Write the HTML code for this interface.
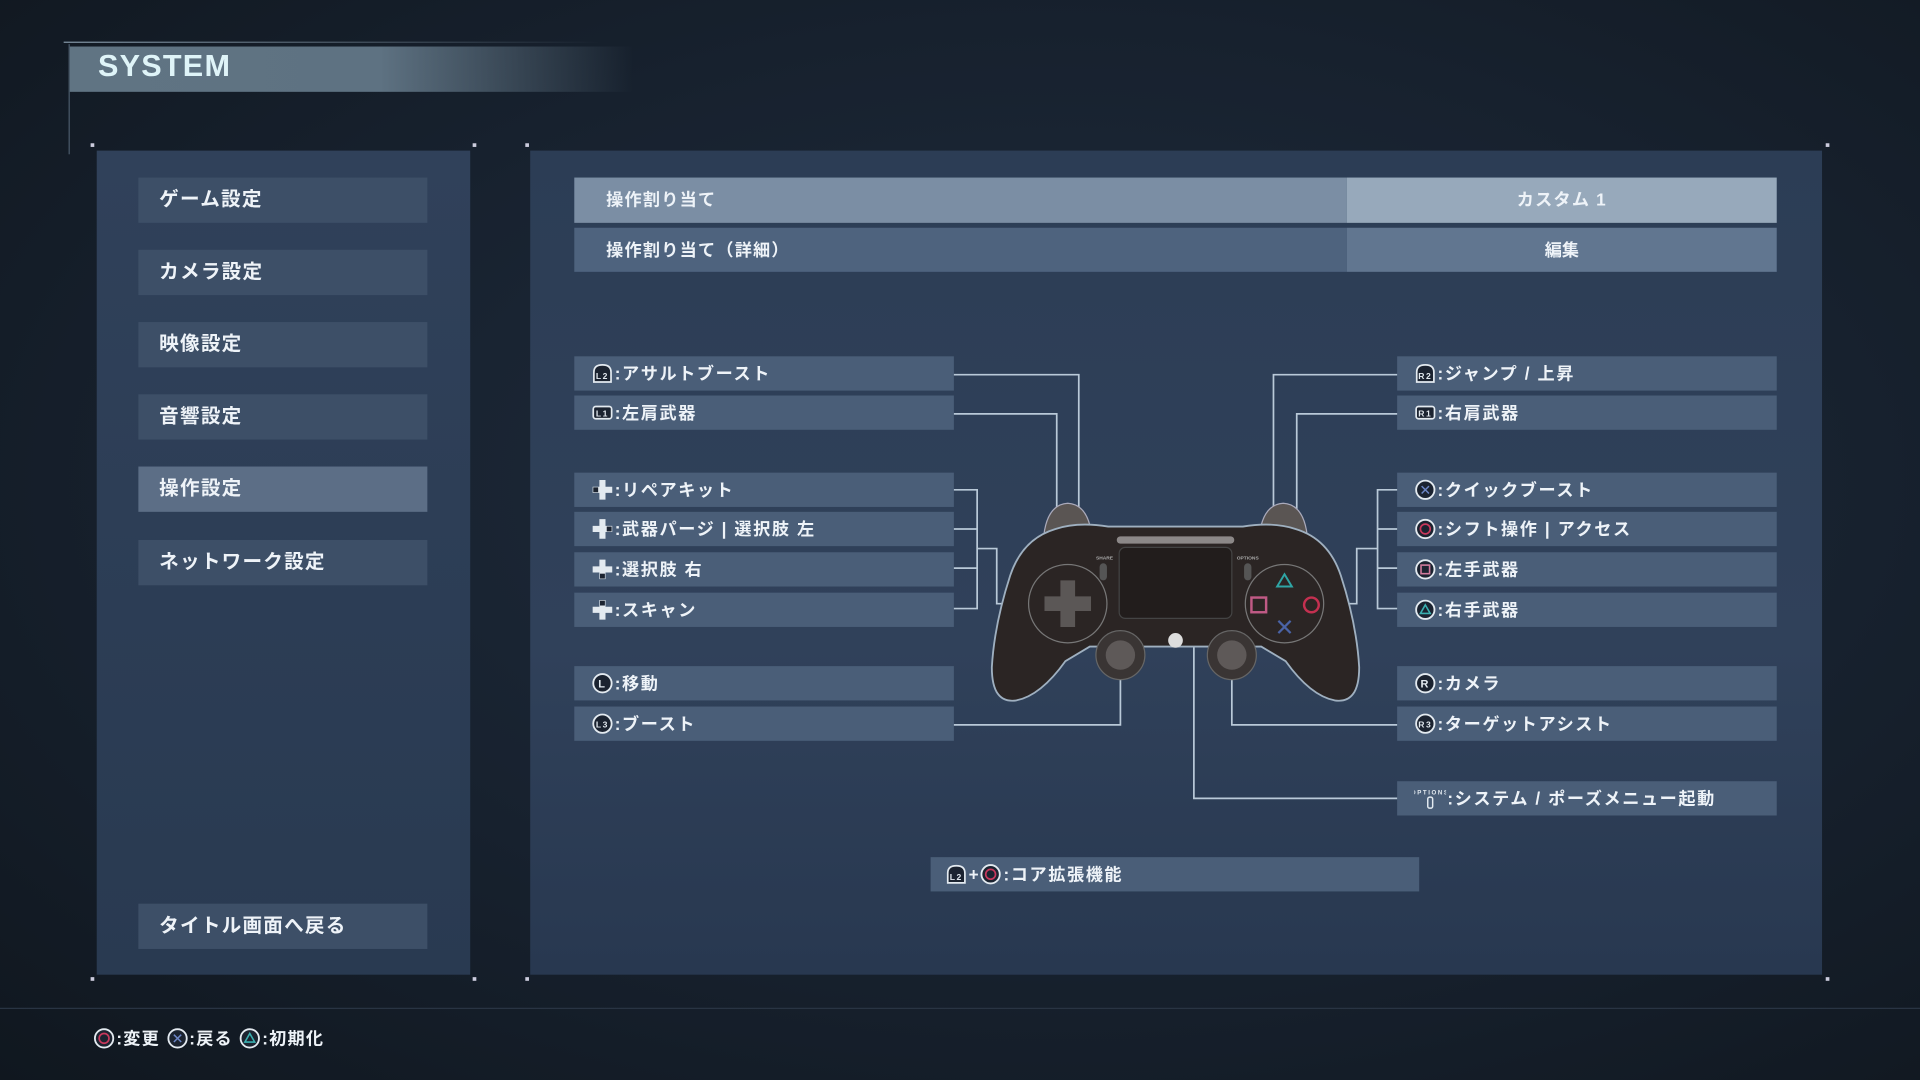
<!DOCTYPE html>
<html><head><meta charset="utf-8">
<style>
html,body{margin:0;padding:0;background:#111923;width:1920px;height:1080px;overflow:hidden}
#s{position:absolute;left:0;top:0;width:1568px;height:882px;transform:scale(1.22449);transform-origin:0 0;
background:radial-gradient(ellipse at 55% 45%,#1f2c3d 0%,#17212e 55%,#10171f 100%);
font-family:"Liberation Sans","Noto Sans CJK JP",sans-serif;color:#eef3f8;font-weight:bold}
.a{position:absolute}
.btn{position:absolute;left:113px;width:236px;height:37px;background:#3d4f67;font-size:16px;line-height:37px;padding-left:17px;box-sizing:border-box;letter-spacing:1px}
.lb{position:absolute;width:310px;height:28px;background:#4a5e78;font-size:14px;line-height:28px;padding-left:14px;box-sizing:border-box;letter-spacing:1.3px;white-space:nowrap}
svg.i{width:18px;height:18px;vertical-align:-4px;margin-right:1px}
svg.i text{font-family:"Liberation Sans",sans-serif;font-weight:bold}
</style></head><body><div id="s">
<svg width="0" height="0" style="position:absolute">
<defs>
<symbol id="c" viewBox="0 0 18 18"><circle cx="9" cy="9" r="7.5" fill="#1b2330" stroke="#e3eaf0" stroke-width="1.5"/></symbol>
</defs></svg>
<!-- header -->
<div class="a" style="left:52px;top:34px;width:440px;height:1px;background:linear-gradient(90deg,#8396a6,rgba(131,150,166,0))"></div>
<div class="a" style="left:56px;top:36px;width:1px;height:90px;background:#4a5a6a"></div>
<div class="a" style="left:57px;top:38px;width:460px;height:37px;background:linear-gradient(90deg,#607483 0%,#5e7282 55%,rgba(80,100,115,0) 100%)"></div>
<div class="a" style="left:80px;top:40px;font-size:25px;color:#dff4f8;letter-spacing:1px;font-family:'Liberation Sans',sans-serif">SYSTEM</div>
<!-- panels -->
<div class="a" style="left:79px;top:123px;width:305px;height:673px;background:linear-gradient(180deg,#30415a,#293a51)"></div>
<div class="a" style="left:433px;top:123px;width:1055px;height:673px;background:linear-gradient(180deg,#2c3d55,#30415a 60%,#283850)"></div>
<div class="a" style="left:74px;top:117px;width:3px;height:3px;background:#ccd"></div>
<div class="a" style="left:386px;top:117px;width:3px;height:3px;background:#ccd"></div>
<div class="a" style="left:429px;top:117px;width:3px;height:3px;background:#ccd"></div>
<div class="a" style="left:1491px;top:117px;width:3px;height:3px;background:#ccd"></div>
<div class="a" style="left:74px;top:798px;width:3px;height:3px;background:#ccd"></div>
<div class="a" style="left:386px;top:798px;width:3px;height:3px;background:#ccd"></div>
<div class="a" style="left:429px;top:798px;width:3px;height:3px;background:#ccd"></div>
<div class="a" style="left:1491px;top:798px;width:3px;height:3px;background:#ccd"></div>
<!-- menu -->
<div class="btn" style="top:145px">ゲーム設定</div>
<div class="btn" style="top:204px">カメラ設定</div>
<div class="btn" style="top:263px">映像設定</div>
<div class="btn" style="top:322px">音響設定</div>
<div class="btn" style="top:381px;background:#5c6e86">操作設定</div>
<div class="btn" style="top:441px">ネットワーク設定</div>
<div class="btn" style="top:738px">タイトル画面へ戻る</div>
<!-- top rows -->
<div class="a" style="left:469px;top:145px;width:631px;height:37px;background:#7b8ea4;font-size:14px;line-height:37px;padding-left:26px;box-sizing:border-box;letter-spacing:1px">操作割り当て</div>
<div class="a" style="left:1100px;top:145px;width:351px;height:37px;background:#97a9bb;font-size:14px;line-height:37px;text-align:center;letter-spacing:1px">カスタム 1</div>
<div class="a" style="left:469px;top:186px;width:631px;height:36px;background:#4e637e;font-size:14px;line-height:36px;padding-left:26px;box-sizing:border-box;letter-spacing:1px">操作割り当て（詳細）</div>
<div class="a" style="left:1100px;top:186px;width:351px;height:36px;background:#617690;font-size:14px;line-height:36px;text-align:center">編集</div>
<!-- left labels -->
<div class="lb" style="left:469px;top:291px"><svg class="i" viewBox="0 0 18 18"><path d="M2,16 V8 Q2,2 9,2 Q16,2 16,8 V16Z" fill="#1b2330" stroke="#e3eaf0" stroke-width="1.4"/><text x="9" y="13.5" font-size="7" fill="#e3eaf0" text-anchor="middle">L2</text></svg>:アサルトブースト</div>
<div class="lb" style="left:469px;top:323px"><svg class="i" viewBox="0 0 18 18"><rect x="1.5" y="4" width="15" height="10" rx="2" fill="#1b2330" stroke="#e3eaf0" stroke-width="1.4"/><text x="9" y="12" font-size="7" fill="#e3eaf0" text-anchor="middle">L1</text></svg>:左肩武器</div>
<div class="lb" style="left:469px;top:386px"><svg class="i" viewBox="0 0 18 18"><path d="M6.5,1h5v5.5h5.5v5h-5.5v5.5h-5v-5.5h-5.5v-5h5.5z" fill="#e3eaf0"/><rect x="1.5" y="7" width="4" height="4" fill="#1b2330"/></svg>:リペアキット</div>
<div class="lb" style="left:469px;top:418px"><svg class="i" viewBox="0 0 18 18"><path d="M6.5,1h5v5.5h5.5v5h-5.5v5.5h-5v-5.5h-5.5v-5h5.5z" fill="#e3eaf0"/><rect x="12.5" y="7" width="4" height="4" fill="#1b2330"/></svg>:武器パージ | 選択肢 左</div>
<div class="lb" style="left:469px;top:451px"><svg class="i" viewBox="0 0 18 18"><path d="M6.5,1h5v5.5h5.5v5h-5.5v5.5h-5v-5.5h-5.5v-5h5.5z" fill="#e3eaf0"/><rect x="7" y="12.5" width="4" height="4" fill="#1b2330"/></svg>:選択肢 右</div>
<div class="lb" style="left:469px;top:484px"><svg class="i" viewBox="0 0 18 18"><path d="M6.5,1h5v5.5h5.5v5h-5.5v5.5h-5v-5.5h-5.5v-5h5.5z" fill="#e3eaf0"/><rect x="7" y="1.5" width="4" height="4" fill="#1b2330"/></svg>:スキャン</div>
<div class="lb" style="left:469px;top:544px"><svg class="i"><use href="#c"/><text x="9" y="12.5" font-size="9" fill="#e3eaf0" text-anchor="middle">L</text></svg>:移動</div>
<div class="lb" style="left:469px;top:577px"><svg class="i"><use href="#c"/><text x="9" y="12" font-size="7" fill="#e3eaf0" text-anchor="middle">L3</text></svg>:ブースト</div>
<!-- right labels -->
<div class="lb" style="left:1141px;top:291px"><svg class="i" viewBox="0 0 18 18"><path d="M2,16 V8 Q2,2 9,2 Q16,2 16,8 V16Z" fill="#1b2330" stroke="#e3eaf0" stroke-width="1.4"/><text x="9" y="13.5" font-size="7" fill="#e3eaf0" text-anchor="middle">R2</text></svg>:ジャンプ / 上昇</div>
<div class="lb" style="left:1141px;top:323px"><svg class="i" viewBox="0 0 18 18"><rect x="1.5" y="4" width="15" height="10" rx="2" fill="#1b2330" stroke="#e3eaf0" stroke-width="1.4"/><text x="9" y="12" font-size="7" fill="#e3eaf0" text-anchor="middle">R1</text></svg>:右肩武器</div>
<div class="lb" style="left:1141px;top:386px"><svg class="i"><use href="#c"/><path d="M6,6L12,12M12,6L6,12" stroke="#6c86c6" stroke-width="1.2"/></svg>:クイックブースト</div>
<div class="lb" style="left:1141px;top:418px"><svg class="i"><use href="#c"/><circle cx="9" cy="9" r="4" fill="none" stroke="#c8385c" stroke-width="1.4"/></svg>:シフト操作 | アクセス</div>
<div class="lb" style="left:1141px;top:451px"><svg class="i"><use href="#c"/><rect x="5.5" y="5.5" width="7" height="7" fill="none" stroke="#d07a9c" stroke-width="1.3"/></svg>:左手武器</div>
<div class="lb" style="left:1141px;top:484px"><svg class="i"><use href="#c"/><path d="M9,5L13,12H5Z" fill="none" stroke="#3bb0b0" stroke-width="1.3"/></svg>:右手武器</div>
<div class="lb" style="left:1141px;top:544px"><svg class="i"><use href="#c"/><text x="9" y="12.5" font-size="9" fill="#e3eaf0" text-anchor="middle">R</text></svg>:カメラ</div>
<div class="lb" style="left:1141px;top:577px"><svg class="i"><use href="#c"/><text x="9" y="12" font-size="7" fill="#e3eaf0" text-anchor="middle">R3</text></svg>:ターゲットアシスト</div>
<div class="lb" style="left:1141px;top:638px"><svg class="i" style="width:26px" viewBox="0 0 26 18"><text x="13" y="6" font-size="5" fill="#e3eaf0" text-anchor="middle">OPTIONS</text><rect x="11" y="8" width="4" height="9" rx="1.5" fill="none" stroke="#e3eaf0" stroke-width="1.2"/></svg>:システム / ポーズメニュー起動</div>
<div class="lb" style="left:760px;top:700px;width:399px;padding-left:12px"><svg class="i" viewBox="0 0 18 18"><path d="M2,16 V8 Q2,2 9,2 Q16,2 16,8 V16Z" fill="#1b2330" stroke="#e3eaf0" stroke-width="1.4"/><text x="9" y="13.5" font-size="7" fill="#e3eaf0" text-anchor="middle">L2</text></svg>+<svg class="i"><use href="#c"/><circle cx="9" cy="9" r="4" fill="none" stroke="#c8385c" stroke-width="1.4"/></svg>:コア拡張機能</div>
<!-- controller + connectors -->
<svg class="a" style="left:0;top:0" width="1568" height="882">
<g fill="none" stroke="#b9c9d8" stroke-width="1.4">
<polyline points="779,306 881,306 881,420"/>
<polyline points="779,338 863,338 863,434"/>
<polyline points="779,400 798,400 798,497 779,497"/>
<line x1="779" y1="432" x2="798" y2="432"/><line x1="779" y1="464" x2="798" y2="464"/>
<polyline points="798,448 814,448 814,493 842,493"/>
<polyline points="779,592 915,592 915,535"/>
<polyline points="1141,306 1040,306 1040,420"/>
<polyline points="1141,338 1059,338 1059,434"/>
<polyline points="1141,400 1125,400 1125,497 1141,497"/>
<line x1="1141" y1="432" x2="1125" y2="432"/><line x1="1141" y1="464" x2="1125" y2="464"/>
<polyline points="1125,448 1108,448 1108,493 1082,493"/>
<polyline points="1141,592 1006,592 1006,535"/>
<polyline points="1141,652 975,652 975,467 1018,467"/>
</g>
<g>
<path d="M852,442 Q854,412 872,411 Q890,412 892,442Z" fill="#5a5553" stroke="#aab" stroke-width="1"/>
<path d="M1028,442 Q1030,412 1048,411 Q1066,412 1068,442Z" fill="#5a5553" stroke="#aab" stroke-width="1"/>
<path d="M862,432 Q880,426 905,430 L1015,430 Q1040,426 1058,432 Q1085,440 1095,470 Q1108,510 1110,545 Q1110,575 1090,572 Q1070,568 1050,540 L1030,528 L890,528 L870,540 Q850,568 830,572 Q810,575 810,545 Q812,510 825,470 Q835,440 862,432Z" fill="#2b2524" stroke="#9fb0c0" stroke-width="1.5"/>
<rect x="912" y="438" width="96" height="6" rx="3" fill="#8c8888"/>
<rect x="914" y="447" width="92" height="58" rx="5" fill="#221d1c" stroke="#444" />
<circle cx="872" cy="493" r="32" fill="#2b2524" stroke="#777" stroke-width="1"/>
<path d="M866,474h12v13h13v12h-13v13h-12v-13h-13v-12h13z" fill="#5b5756"/>
<circle cx="1049" cy="493" r="32" fill="#2b2524" stroke="#777" stroke-width="1"/>
<path d="M1049,469L1055,479H1043Z" fill="none" stroke="#2fa5a5" stroke-width="1.6"/>
<path d="M1044,507L1054,517M1054,507L1044,517" stroke="#4a63a6" stroke-width="1.8"/>
<rect x="1022" y="488" width="12" height="12" fill="none" stroke="#c05a85" stroke-width="2"/>
<circle cx="1071" cy="494" r="6" fill="none" stroke="#c43050" stroke-width="2"/>
<circle cx="915" cy="535" r="20" fill="#3a3534" stroke="#666"/><circle cx="915" cy="535" r="12" fill="#5e5958"/>
<circle cx="1006" cy="535" r="20" fill="#3a3534" stroke="#666"/><circle cx="1006" cy="535" r="12" fill="#5e5958"/>
<rect x="898" y="460" width="6" height="14" rx="3" fill="#555"/><rect x="1016" y="460" width="6" height="14" rx="3" fill="#555"/>
<text x="902" y="457" fill="#aaa" font-size="4" text-anchor="middle">SHARE</text>
<text x="1019" y="457" fill="#aaa" font-size="4" text-anchor="middle">OPTIONS</text>
<circle cx="960" cy="523" r="6" fill="#ddd"/>
</g>
</svg>
<!-- footer -->
<div class="a" style="left:0;top:823px;width:1568px;height:1px;background:#2a3544"></div>
<div class="a" style="left:76px;top:838px;font-size:14px;letter-spacing:1px;white-space:nowrap"><svg class="i"><use href="#c"/><circle cx="9" cy="9" r="4" fill="none" stroke="#c8385c" stroke-width="1.4"/></svg>:変更 <svg class="i"><use href="#c"/><path d="M6,6L12,12M12,6L6,12" stroke="#6c86c6" stroke-width="1.2"/></svg>:戻る <svg class="i"><use href="#c"/><path d="M9,5L13,12H5Z" fill="none" stroke="#3bb0b0" stroke-width="1.3"/></svg>:初期化</div>
</div></body></html>
